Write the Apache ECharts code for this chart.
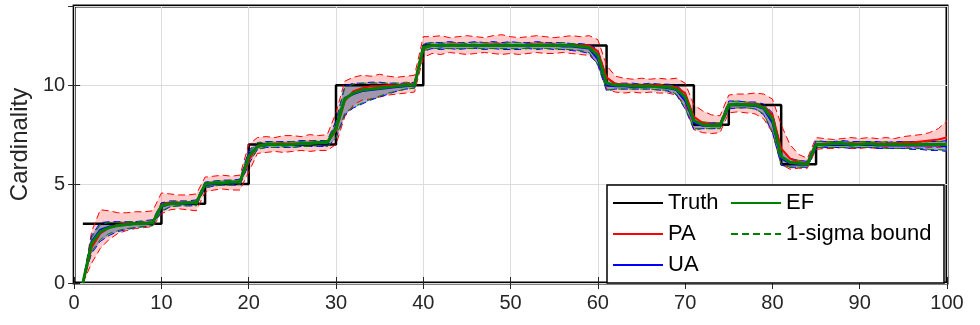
<!DOCTYPE html>
<html>
<head>
<meta charset="utf-8">
<script src="https://cdn.jsdelivr.net/npm/echarts@6/dist/echarts.min.js"></script>
<style>
  html, body { margin: 0; padding: 0; background: #fff; }
  #chart { width: 980px; height: 325px; }
</style>
</head>
<body>
<div id="chart"></div>
<script>
// time steps 1..100
var time = [];
for (var i = 1; i <= 100; i++) time.push(i);

// ground truth cardinality
var truth = [
  3, 3, 3, 3, 3, 3, 3, 3, 3, 4,
  4, 4, 4, 4, 5, 5, 5, 5, 5, 7,
  7, 7, 7, 7, 7, 7, 7, 7, 7, 10,
  10, 10, 10, 10, 10, 10, 10, 10, 10, 12,
  12, 12, 12, 12, 12, 12, 12, 12, 12, 12,
  12, 12, 12, 12, 12, 12, 12, 12, 12, 12,
  10, 10, 10, 10, 10, 10, 10, 10, 10, 10,
  8, 8, 8, 8, 9, 9, 9, 9, 9, 9,
  6, 6, 6, 6, 7, 7, 7, 7, 7, 7,
  7, 7, 7, 7, 7, 7, 7, 7, 7, 7
];

// mean estimates
var pa = [
  0, 1.8, 2.5, 2.8, 2.95, 3.0, 3.0, 3.05, 3.05, 3.95,
  4.05, 4.05, 4.05, 4.05, 5.0, 5.05, 5.05, 5.05, 5.1, 6.2,
  6.95, 7.0, 7.05, 7.05, 7.05, 7.05, 7.1, 7.1, 7.1, 7.7,
  9.2, 9.7, 9.85, 9.95, 9.95, 10.0, 10.0, 10.05, 10.05, 11.85,
  12.0, 12.0, 12.05, 12.05, 12.0, 12.0, 12.05, 12.05, 12.05, 12.0,
  12.0, 12.05, 12.05, 12.05, 12.05, 12.0, 12.0, 12.0, 12.0, 11.7,
  10.4, 10.05, 10.05, 10.0, 10.0, 10.0, 10.0, 9.95, 9.9, 9.6,
  8.4, 8.1, 8.0, 8.0, 9.0, 9.05, 9.05, 9.05, 8.9, 8.5,
  6.8, 6.3, 6.1, 6.05, 7.0, 7.05, 7.05, 7.05, 7.05, 7.05,
  7.05, 7.05, 7.05, 7.05, 7.1, 7.1, 7.15, 7.2, 7.25, 7.35
];
var ua = [
  0, 2.1, 2.7, 2.85, 2.9, 2.95, 3.0, 3.0, 3.05, 3.85,
  4.0, 4.0, 4.0, 4.05, 4.95, 5.0, 5.05, 5.05, 5.1, 6.5,
  6.9, 6.95, 7.0, 7.0, 7.0, 7.0, 7.05, 7.05, 7.05, 7.9,
  9.35, 9.55, 9.7, 9.75, 9.8, 9.85, 9.9, 9.95, 10.0, 11.95,
  12.0, 11.95, 12.0, 12.0, 12.0, 11.95, 12.0, 12.0, 12.0, 12.0,
  12.0, 11.95, 12.0, 12.0, 12.0, 11.95, 11.95, 11.9, 11.85, 11.3,
  10.0, 9.95, 9.95, 9.9, 9.9, 9.95, 9.9, 9.85, 9.75, 9.2,
  8.1, 7.95, 7.95, 7.95, 9.0, 9.0, 9.0, 8.95, 8.8, 8.1,
  6.3, 6.05, 6.0, 6.0, 7.0, 6.95, 7.0, 7.0, 6.95, 7.0,
  7.0, 6.95, 6.95, 6.95, 6.95, 6.95, 6.95, 6.95, 6.95, 6.9
];
var ef = [
  0, 2.0, 2.6, 2.8, 2.9, 2.95, 3.0, 3.0, 3.05, 3.9,
  4.0, 4.0, 4.05, 4.05, 5.0, 5.05, 5.05, 5.1, 5.1, 6.4,
  6.9, 7.0, 7.0, 7.0, 7.0, 7.05, 7.05, 7.1, 7.1, 7.8,
  9.3, 9.6, 9.75, 9.8, 9.85, 9.9, 9.95, 10.0, 10.0, 11.9,
  12.0, 12.0, 12.0, 12.0, 12.0, 12.0, 12.0, 12.0, 12.0, 12.0,
  12.0, 12.0, 12.0, 12.0, 12.0, 12.0, 12.0, 11.95, 11.9, 11.5,
  10.1, 10.0, 10.0, 9.95, 9.95, 9.95, 9.9, 9.9, 9.8, 9.4,
  8.2, 8.0, 7.95, 7.95, 9.0, 9.05, 9.0, 9.0, 8.85, 8.3,
  6.4, 6.1, 6.05, 6.0, 7.0, 7.0, 7.05, 7.05, 7.0, 7.0,
  7.05, 7.0, 7.0, 7.0, 7.0, 7.0, 7.0, 7.0, 7.0, 7.0
];

// 1-sigma bounds
var paHi = [
  0, 2.6, 3.7, 3.65, 3.55, 3.55, 3.6, 3.6, 3.65, 4.55,
  4.5, 4.45, 4.45, 4.5, 5.35, 5.4, 5.45, 5.4, 5.45, 7.0,
  7.35, 7.4, 7.35, 7.45, 7.45, 7.4, 7.5, 7.45, 7.5, 8.6,
  10.2, 10.4, 10.5, 10.45, 10.55, 10.45, 10.4, 10.45, 10.5, 12.45,
  12.45, 12.5, 12.4, 12.45, 12.5, 12.45, 12.4, 12.5, 12.55, 12.45,
  12.4, 12.45, 12.5, 12.45, 12.4, 12.45, 12.5, 12.45, 12.5, 12.3,
  11.0, 10.45, 10.35, 10.3, 10.35, 10.3, 10.35, 10.3, 10.35, 10.1,
  9.0, 8.7, 8.5, 8.45, 9.5, 9.55, 9.55, 9.6, 9.55, 9.3,
  8.0, 7.0, 6.5, 6.3, 7.35, 7.3, 7.25, 7.3, 7.35, 7.3,
  7.35, 7.3, 7.35, 7.3, 7.4, 7.45, 7.5, 7.6, 7.8, 8.2
];
var paLo = [
  0, 1.0, 1.75, 2.2, 2.5, 2.65, 2.75, 2.8, 2.85, 3.5,
  3.7, 3.75, 3.7, 3.65, 4.6, 4.7, 4.75, 4.7, 4.7, 5.6,
  6.55, 6.6, 6.65, 6.6, 6.65, 6.7, 6.65, 6.7, 6.7, 7.0,
  8.4, 9.0, 9.25, 9.3, 9.4, 9.5, 9.55, 9.6, 9.65, 11.4,
  11.6, 11.55, 11.65, 11.6, 11.55, 11.6, 11.65, 11.6, 11.55, 11.6,
  11.55, 11.6, 11.65, 11.6, 11.6, 11.65, 11.6, 11.55, 11.5, 11.1,
  9.8, 9.65, 9.6, 9.65, 9.6, 9.65, 9.6, 9.6, 9.5, 9.0,
  7.75, 7.6, 7.55, 7.6, 8.6, 8.65, 8.6, 8.55, 8.3, 7.6,
  6.0, 5.75, 5.8, 5.8, 6.75, 6.8, 6.8, 6.85, 6.8, 6.8,
  6.85, 6.8, 6.85, 6.8, 6.8, 6.85, 6.8, 6.85, 6.85, 6.9
];
var uaHi = [
  0, 2.4, 3.05, 3.1, 3.1, 3.1, 3.1, 3.15, 3.2, 4.05,
  4.15, 4.15, 4.15, 4.2, 5.1, 5.15, 5.2, 5.2, 5.25, 6.7,
  7.1, 7.15, 7.15, 7.15, 7.15, 7.2, 7.2, 7.2, 7.2, 8.2,
  9.95, 10.1, 10.1, 10.15, 10.15, 10.1, 10.1, 10.1, 10.15, 12.1,
  12.15, 12.15, 12.2, 12.15, 12.15, 12.2, 12.15, 12.2, 12.15, 12.2,
  12.15, 12.15, 12.2, 12.15, 12.15, 12.15, 12.1, 12.1, 12.05, 11.8,
  10.4, 10.1, 10.1, 10.1, 10.05, 10.1, 10.05, 10.05, 10.0, 9.6,
  8.4, 8.1, 8.1, 8.1, 9.2, 9.2, 9.15, 9.15, 9.05, 8.6,
  6.8, 6.3, 6.2, 6.15, 7.2, 7.15, 7.15, 7.2, 7.15, 7.15,
  7.15, 7.15, 7.1, 7.15, 7.15, 7.15, 7.15, 7.15, 7.15, 7.2
];
var uaLo = [
  0, 1.5, 2.1, 2.4, 2.6, 2.7, 2.8, 2.85, 2.9, 3.6,
  3.85, 3.9, 3.9, 3.9, 4.8, 4.9, 4.95, 4.95, 4.95, 6.0,
  6.75, 6.85, 6.85, 6.85, 6.85, 6.9, 6.9, 6.9, 6.9, 7.3,
  8.5, 8.85, 9.05, 9.25, 9.4, 9.55, 9.7, 9.8, 9.85, 11.7,
  11.85, 11.8, 11.85, 11.8, 11.85, 11.85, 11.8, 11.85, 11.8, 11.8,
  11.8, 11.85, 11.8, 11.85, 11.8, 11.8, 11.75, 11.7, 11.6, 11.0,
  9.7, 9.8, 9.8, 9.8, 9.8, 9.8, 9.75, 9.7, 9.5, 8.8,
  7.75, 7.8, 7.8, 7.8, 8.8, 8.85, 8.85, 8.8, 8.5, 7.6,
  5.95, 5.85, 5.85, 5.85, 6.8, 6.85, 6.85, 6.85, 6.8, 6.85,
  6.85, 6.8, 6.8, 6.8, 6.8, 6.75, 6.75, 6.7, 6.7, 6.65
];
var efHi = [
  0, 2.3, 2.95, 3.05, 3.05, 3.1, 3.1, 3.1, 3.15, 4.0,
  4.1, 4.15, 4.1, 4.15, 5.05, 5.15, 5.15, 5.2, 5.2, 6.6,
  7.1, 7.1, 7.15, 7.1, 7.15, 7.15, 7.2, 7.15, 7.2, 8.1,
  9.85, 10.05, 10.1, 10.1, 10.1, 10.1, 10.1, 10.15, 10.1, 12.05,
  12.15, 12.1, 12.15, 12.15, 12.1, 12.15, 12.15, 12.15, 12.1, 12.15,
  12.15, 12.1, 12.15, 12.15, 12.1, 12.15, 12.1, 12.05, 12.0, 11.75,
  10.35, 10.1, 10.05, 10.05, 10.05, 10.05, 10.05, 10.0, 9.95, 9.55,
  8.4, 8.15, 8.1, 8.1, 9.15, 9.2, 9.15, 9.1, 9.0, 8.55,
  6.75, 6.3, 6.2, 6.15, 7.15, 7.15, 7.15, 7.15, 7.1, 7.15,
  7.15, 7.1, 7.15, 7.1, 7.15, 7.15, 7.1, 7.15, 7.15, 7.15
];
var efLo = [
  0, 1.6, 2.2, 2.5, 2.65, 2.75, 2.8, 2.85, 2.9, 3.65,
  3.85, 3.9, 3.9, 3.9, 4.85, 4.9, 4.95, 4.95, 5.0, 6.05,
  6.75, 6.85, 6.85, 6.9, 6.85, 6.9, 6.9, 6.95, 6.9, 7.35,
  8.6, 8.9, 9.1, 9.3, 9.45, 9.6, 9.7, 9.8, 9.85, 11.75,
  11.85, 11.85, 11.85, 11.85, 11.85, 11.85, 11.85, 11.85, 11.85, 11.85,
  11.85, 11.85, 11.85, 11.85, 11.85, 11.8, 11.8, 11.75, 11.65, 11.05,
  9.75, 9.8, 9.8, 9.8, 9.8, 9.8, 9.75, 9.75, 9.55, 8.85,
  7.8, 7.8, 7.8, 7.8, 8.85, 8.85, 8.85, 8.8, 8.55, 7.65,
  6.0, 5.85, 5.85, 5.85, 6.85, 6.85, 6.85, 6.85, 6.85, 6.85,
  6.85, 6.85, 6.8, 6.8, 6.8, 6.8, 6.8, 6.75, 6.75, 6.7
];

var FONT = "'Liberation Sans', Arial, sans-serif";

function pairs(arr) {
  return arr.map(function (v, i) { return [time[i], v]; });
}

// shaded region between lo and hi, drawn as one polygon through the axis scales
function band(name, hi, lo, fill) {
  return {
    name: name, type: "custom", silent: true,
    data: [[0, 0]],
    renderItem: function (params, api) {
      var pts = [];
      for (var k = 0; k < time.length; k++) pts.push(api.coord([time[k], hi[k]]));
      for (var k = time.length - 1; k >= 0; k--) pts.push(api.coord([time[k], lo[k]]));
      return {
        type: "polygon",
        shape: { points: pts },
        style: { fill: fill, stroke: null }
      };
    }
  };
}
function dashed(name, data, color) {
  return {
    name: name, type: "line", data: pairs(data), symbol: "none",
    lineStyle: { color: color, width: 1, type: [7, 4] },
    itemStyle: { color: color }
  };
}
function mean(name, data, color, w) {
  return {
    name: name, type: "line", data: pairs(data), symbol: "none",
    lineStyle: { color: color, width: w },
    itemStyle: { color: color }
  };
}

var legendBase = {
  z: 110, top: 190, orient: "vertical", padding: 0,
  itemWidth: 50, itemHeight: 14, itemGap: 5,
  itemStyle: { opacity: 0 },
  textStyle: { fontSize: 22, fontFamily: FONT, color: "#000", lineHeight: 26 }
};

var option = {
  animation: false,
  backgroundColor: "#fff",
  grid: {
    left: 72, right: 33, top: 6, bottom: 42,
    show: true, borderColor: "#000", borderWidth: 3
  },
  xAxis: [
    {
      type: "value", min: 0, max: 100, interval: 10,
      axisLine: { show: false },
      axisTick: { inside: true, length: 6, lineStyle: { color: "#262626" } },
      axisLabel: { color: "#262626", fontSize: 20, fontFamily: FONT, margin: 10 },
      splitLine: { show: true, lineStyle: { color: "#dcdcdc", width: 1 } }
    },
    {
      type: "value", min: 0, max: 100, interval: 10, position: "top",
      axisLine: { show: false },
      axisTick: { inside: true, length: 6, lineStyle: { color: "#262626" } },
      axisLabel: { show: false }, splitLine: { show: false }
    }
  ],
  yAxis: [
    {
      type: "value", min: 0, max: 14, interval: 5,
      name: "Cardinality", nameLocation: "middle", nameGap: 40,
      nameTextStyle: { color: "#262626", fontSize: 24, fontFamily: FONT },
      axisLine: { show: false },
      axisTick: { inside: true, length: 6, lineStyle: { color: "#262626" } },
      axisLabel: { color: "#262626", fontSize: 20, fontFamily: FONT, margin: 9, showMaxLabel: false },
      splitLine: { show: true, lineStyle: { color: "#dcdcdc", width: 1 } }
    },
    {
      type: "value", min: 0, max: 14, interval: 5, position: "right",
      axisLine: { show: false },
      axisTick: { inside: true, length: 6, lineStyle: { color: "#262626" } },
      axisLabel: { show: false }, splitLine: { show: false }
    }
  ],
  graphic: [
    {
      type: "rect", z: 100,
      shape: { x: 607, y: 185, width: 337, height: 98 },
      style: { fill: "#fff", stroke: "#000", lineWidth: 1.5 }
    }
  ],
  legend: [
    Object.assign({}, legendBase, { left: 612, data: ["Truth", "PA", "UA"] }),
    Object.assign({}, legendBase, { left: 730, data: ["EF", "1-sigma bound"] })
  ],
  series: [
    band("paBand", paHi, paLo, "rgba(255,0,0,0.2)"),
    band("uaBand", uaHi, uaLo, "rgba(70,95,145,0.5)"),
    {
      name: "Truth", type: "line", step: "end", data: pairs(truth), symbol: "none",
      lineStyle: { color: "#000", width: 2.5 }, itemStyle: { color: "#000" }
    },
    dashed("paHi", paHi, "#ff0000"),
    dashed("paLo", paLo, "#ff0000"),
    dashed("uaHi", uaHi, "#0000ff"),
    dashed("uaLo", uaLo, "#0000ff"),
    dashed("efHi", efHi, "#008000"),
    dashed("1-sigma bound", efLo, "#008000"),
    mean("PA", pa, "#ff0000", 2),
    mean("UA", ua, "#0000ff", 2),
    mean("EF", ef, "#008000", 3)
  ]
};

var chart = echarts.init(document.getElementById("chart"));
chart.setOption(option);
</script>
</body>
</html>
